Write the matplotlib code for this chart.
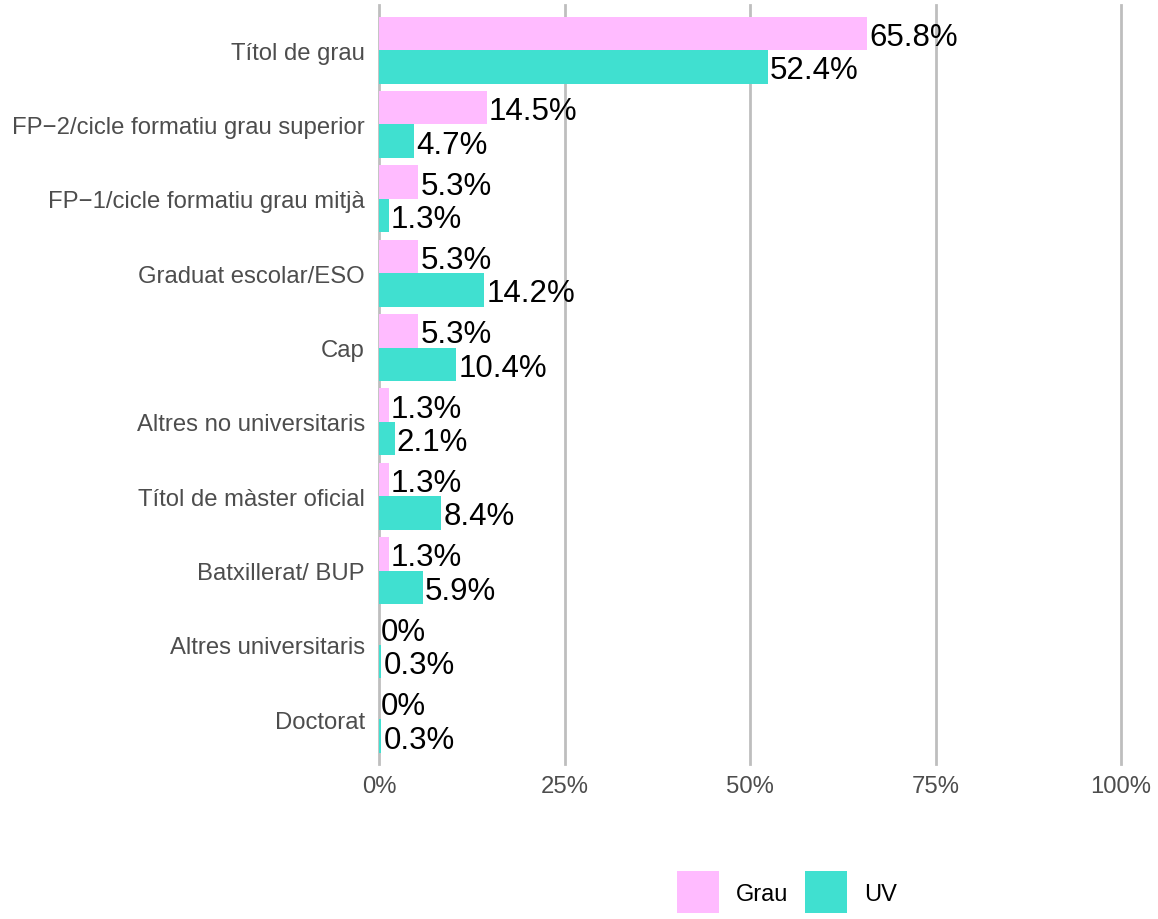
import numpy as np
import matplotlib.pyplot as plt
from matplotlib.patches import Patch

plt.rcParams['font.family'] = ['Liberation Sans', 'DejaVu Sans']

# Data
categories = ["Títol de grau", "FP−2/cicle formatiu grau superior",
              "FP−1/cicle formatiu grau mitjà", "Graduat escolar/ESO", "Cap",
              "Altres no universitaris", "Títol de màster oficial",
              "Batxillerat/ BUP", "Altres universitaris", "Doctorat"]
grau = [65.8, 14.5, 5.3, 5.3, 5.3, 1.3, 1.3, 1.3, 0, 0]
uv = [52.4, 4.7, 1.3, 14.2, 10.4, 2.1, 8.4, 5.9, 0.3, 0.3]
xticks = [0, 25, 50, 75, 100]
series = ["Grau", "UV"]
colors = ["#FFBBFF", "#40E0D0"]

fig = plt.figure(figsize=(11.58, 9.2), dpi=100)
ax = fig.add_axes([0.3273, 0.1685, 0.6408, 0.8245])

y = np.arange(len(categories))
h = 0.45
ax.barh(y - h / 2, grau, height=h, color=colors[0], zorder=2)
ax.barh(y + h / 2, uv, height=h, color=colors[1], zorder=2)

# value labels, just right of each bar
for yi, v in zip(y - h / 2, grau):
    ax.annotate(f"{v:g}%", (v, yi), xytext=(1.5, -2.5), textcoords='offset points',
                va='center', ha='left', fontsize=22.5, color='black')
for yi, v in zip(y + h / 2, uv):
    ax.annotate(f"{v:g}%", (v, yi), xytext=(1.5, -2.5), textcoords='offset points',
                va='center', ha='left', fontsize=22.5, color='black')

ax.set_xlim(0, 100)
ax.set_ylim(len(categories) - 0.4, -0.6)
ax.set_yticks(y)
ax.set_yticklabels(categories)
ax.set_xticks(xticks)
ax.set_xticklabels([f"{t}%" for t in xticks])
ax.tick_params(axis='y', length=0, pad=10, labelsize=17.2, labelcolor='#4D4D4D')
ax.tick_params(axis='x', length=0, pad=8, labelsize=17.2, labelcolor='#4D4D4D')

ax.grid(axis='x', color='#BEBEBE', linewidth=2, zorder=0)
ax.grid(axis='y', visible=False)
for gl in ax.get_xgridlines():
    gl.set_clip_on(False)
for s in ax.spines.values():
    s.set_visible(False)

handles = [Patch(facecolor=c, edgecolor='none') for c in colors]
fig.legend(handles, series, loc='center', bbox_to_anchor=(0.6795, 0.029), ncol=2,
           frameon=False, fontsize=17, handlelength=1.8, handleheight=2.35,
           handletextpad=0.7, columnspacing=0.7)

fig.savefig("out.png", dpi=100)
